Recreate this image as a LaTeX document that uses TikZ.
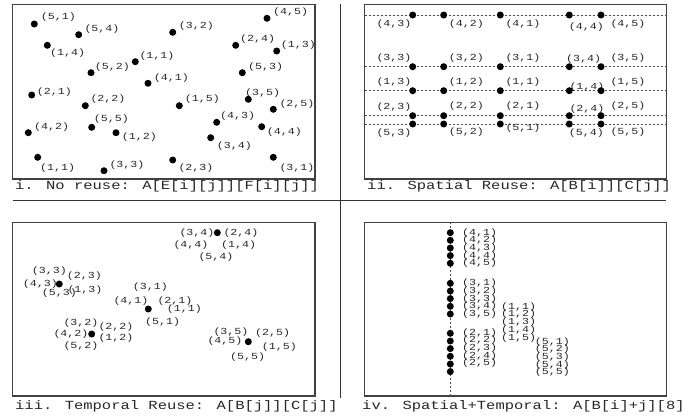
\documentclass[tikz,border=0pt]{standalone}
\usepackage{fontspec}
\newfontfamily\mono[FakeStretch=1.25]{Liberation Mono}
\tikzset{
  pt/.style={circle, fill=black, inner sep=0pt, minimum size=7pt},
  lbl/.style={font={\mono\fontsize{9.3}{9.3}\selectfont}, inner sep=0pt, anchor=west, text=black!85},
  capt/.style={font={\mono\fontsize{12.4}{12.4}\selectfont}, inner sep=0pt, anchor=west, text=black!85},
  panel/.style={draw=black!75, line width=1.2pt},
  divider/.style={draw=black!80, line width=1pt},
  dline/.style={draw=black!70, line width=0.8pt, dash pattern=on 2pt off 2pt}
}
\begin{document}
\begin{tikzpicture}[x=1pt,y=-1pt]
\useasboundingbox (0,0) rectangle (694,418);
% dividers
\coordinate (hl) at (12.7,200.7); \coordinate (hr) at (665.7,200.7);
\coordinate (vt) at (340,4); \coordinate (vb) at (340,398);
\draw[divider] (hl) -- (hr);
\draw[divider] (vt) -- (vb);
% panels
\draw[panel] (12.7,4.7) rectangle (315,179);
\draw[panel] (364.7,4.7) rectangle (666.5,179);
\draw[panel] (12.7,222.3) rectangle (315,396);
\draw[panel] (364.7,222.3) rectangle (666.5,396);
% captions
\node[capt] (c1) at (15,186) {i. No reuse: A[E[i][j]][F[i][j]]};
\node[capt] (c2) at (367,186) {ii. Spatial Reuse: A[B[i]][C[j]]};
\node[capt] (c3) at (15,406.7) {iii. Temporal Reuse: A[B[j]][C[j]]};
\node[capt] (c4) at (362,406.7) {iv. Spatial+Temporal: A[B[i]+j][8]};
% ---------- panel i ----------
\foreach \n/\x/\y/\t/\lx/\ly in {
 a/34.3/24/{(5,1)}/40.7/17,
 b/78.7/34.7/{(5,4)}/84.3/29.5,
 c/172.7/32.3/{(3,2)}/178.7/26.5,
 d/267/18.3/{(4,5)}/273/12.5,
 e/47.3/45.3/{(1,4)}/50/53.3,
 f/235.7/45.3/{(2,4)}/240/39.5,
 g/276.7/51/{(1,3)}/280.7/45,
 h/135.3/61.7/{(1,1)}/139.3/56,
 i/91/72.7/{(5,2)}/94.7/66.7,
 j/242.3/72.7/{(5,3)}/248/66.7,
 k/148/83.3/{(4,1)}/153.7/78,
 l/31.7/95/{(2,1)}/36.7/92,
 m/85.3/105.7/{(2,2)}/90.3/99.3,
 n/179.3/105.7/{(1,5)}/184.7/99.3,
 o/248.3/99.3/{(3,5)}/245/93,
 p/273.3/109.3/{(2,5)}/279.3/104.5,
 q/91.7/127.3/{(5,5)}/93.7/119,
 r/28.3/132.7/{(4,2)}/34/127.3,
 s/116/132.7/{(1,2)}/121.7/137.5,
 t/216.7/122.3/{(4,3)}/220/115.7,
 u/261.7/126.7/{(4,4)}/266.7/132.5,
 v/210.7/137.7/{(3,4)}/216.7/145.7,
 w/37.7/157.3/{(1,1)}/40/168.3,
 x/104/170.7/{(3,3)}/109.3/165,
 y/172.7/160/{(2,3)}/178.3/168.3,
 z/273.3/157.3/{(3,1)}/279.3/168.3}{
  \node[lbl] (iL\n) at (\lx,\ly) {\t};
  \node[pt] (iP\n) at (\x,\y) {};
}
% ---------- panel ii ----------
\foreach \r/\y in {4/15,3/66.7,1/90.7,2/115.7,5/124}{
  \coordinate (iiA\r) at (364.7,\y);
  \coordinate (iiB\r) at (666.5,\y);
  \draw[dline] (iiA\r) -- (iiB\r);
}
\foreach \n/\x/\y/\t/\lx/\ly in {
 a1/412.7/15/{(4,3)}/376.3/24.5, a2/443.7/15/{(4,2)}/448.7/24.5, a3/500.3/15/{(4,1)}/505.3/24.5, a4/569.3/15/{(4,4)}/568.7/26.7, a5/601/15/{(4,5)}/610.3/24.5,
 b1/412.7/66.7/{(3,3)}/376.3/58.3, b2/443.7/66.7/{(3,2)}/448.7/58.3, b3/500.3/66.7/{(3,1)}/505.3/58.3, b4/569.3/66.7/{(3,4)}/566/59.3, b5/601/66.7/{(3,5)}/610.3/58,
 c1/412.7/90.7/{(1,3)}/376.3/81.7, c2/443.7/90.7/{(1,2)}/448.7/81.7, c3/500.3/90.7/{(1,1)}/505.3/81.7, c4/569.3/90.7/{(1,4)}/569.3/86.7, c5/601/90.7/{(1,5)}/610.3/81.7,
 d1/412.7/115.7/{(2,3)}/376.3/106.7, d2/443.7/115.7/{(2,2)}/448.7/106, d3/500.3/115.7/{(2,1)}/505.3/106, d4/569.3/115.7/{(2,4)}/569.3/109, d5/601/115.7/{(2,5)}/610.3/106,
 e1/412.7/124/{(5,3)}/376.3/133.3, e2/443.7/124/{(5,2)}/448.7/131.7, e3/500.3/124/{(5,1)}/505.3/128.3, e4/569.3/124/{(5,4)}/568.7/133.3, e5/601/124/{(5,5)}/610.3/131.7}{
  \node[lbl] (iiL\n) at (\lx,\ly) {\t};
  \node[pt] (iiP\n) at (\x,\y) {};
}
% ---------- panel iii ----------
\foreach \n/\lx/\ly/\t in {
 a1/31.7/271/{(3,3)}, a2/66.7/276/{(2,3)}, a3/22.7/284/{(4,3)}, a4/41.7/293.3/{(5,3)}, a5/67.3/290/{(1,3)},
 b1/132.7/287.3/{(3,1)}, b2/113.3/300.7/{(4,1)}, b3/157.3/300.7/{(2,1)}, b4/166.7/309.3/{(1,1)}, b5/145/321.7/{(5,1)},
 c1/63.3/323.3/{(3,2)}, c2/98.3/326.7/{(2,2)}, c3/53.3/334.3/{(4,2)}, c4/98.3/338.3/{(1,2)}, c5/63.3/346/{(5,2)},
 d1/213.3/331.7/{(3,5)}, d2/255/333.3/{(2,5)}, d3/207.3/340.7/{(4,5)}, d4/261.7/347.3/{(1,5)}, d5/230/357.3/{(5,5)},
 e1/179.3/232.7/{(3,4)}, e2/223.3/232.7/{(2,4)}, e3/173.3/245/{(4,4)}, e4/221/245/{(1,4)}, e5/198.3/256.7/{(5,4)}}{
  \node[lbl] (iiiL\n) at (\lx,\ly) {\t};
}
\foreach \n/\x/\y in {a/59.3/284, b/148.3/309, c/91.7/334, d/248.3/341.7, e/217.3/232.7}{
  \node[pt] (iiiP\n) at (\x,\y) {};
}
% ---------- panel iv ----------
\coordinate (ivT) at (450.3,222.3);
\coordinate (ivB) at (450.3,396);
\draw[dline] (ivT) -- (ivB);
\foreach \n/\lx/\ly/\t in {
 a1/462/232.7/{(4,1)}, a2/462/240.3/{(4,2)}, a3/462/248/{(4,3)}, a4/462/255.6/{(4,4)}, a5/462/263.3/{(4,5)},
 b1/462/283.3/{(3,1)}, b2/462/291/{(3,2)}, b3/462/298.6/{(3,3)}, b4/462/306.3/{(3,4)}, b5/462/314/{(3,5)},
 c1/501/306.7/{(1,1)}, c2/501/314.5/{(1,2)}, c3/501/322.3/{(1,3)}, c4/501/330.1/{(1,4)}, c5/501/338/{(1,5)},
 d1/462/332.7/{(2,1)}, d2/462/340.4/{(2,2)}, d3/462/348.1/{(2,3)}, d4/462/355.8/{(2,4)}, d5/462/363.5/{(2,5)},
 e1/534.7/341.7/{(5,1)}, e2/534.7/349.3/{(5,2)}, e3/534.7/357/{(5,3)}, e4/534.7/364.6/{(5,4)}, e5/534.7/372.3/{(5,5)}}{
  \node[lbl] (ivL\n) at (\lx,\ly) {\t};
}
\foreach \n/\y in {a1/232.7, a2/240.3, a3/248, a4/255.6, a5/263.3,
 b1/283.3, b2/291, b3/298.6, b4/306.3, b5/314,
 d1/333.3, d2/341, d3/348.6, d4/356.3, d5/364, d6/371.6}{
  \node[pt] (ivP\n) at (450.3,\y) {};
}
\end{tikzpicture}
\end{document}
